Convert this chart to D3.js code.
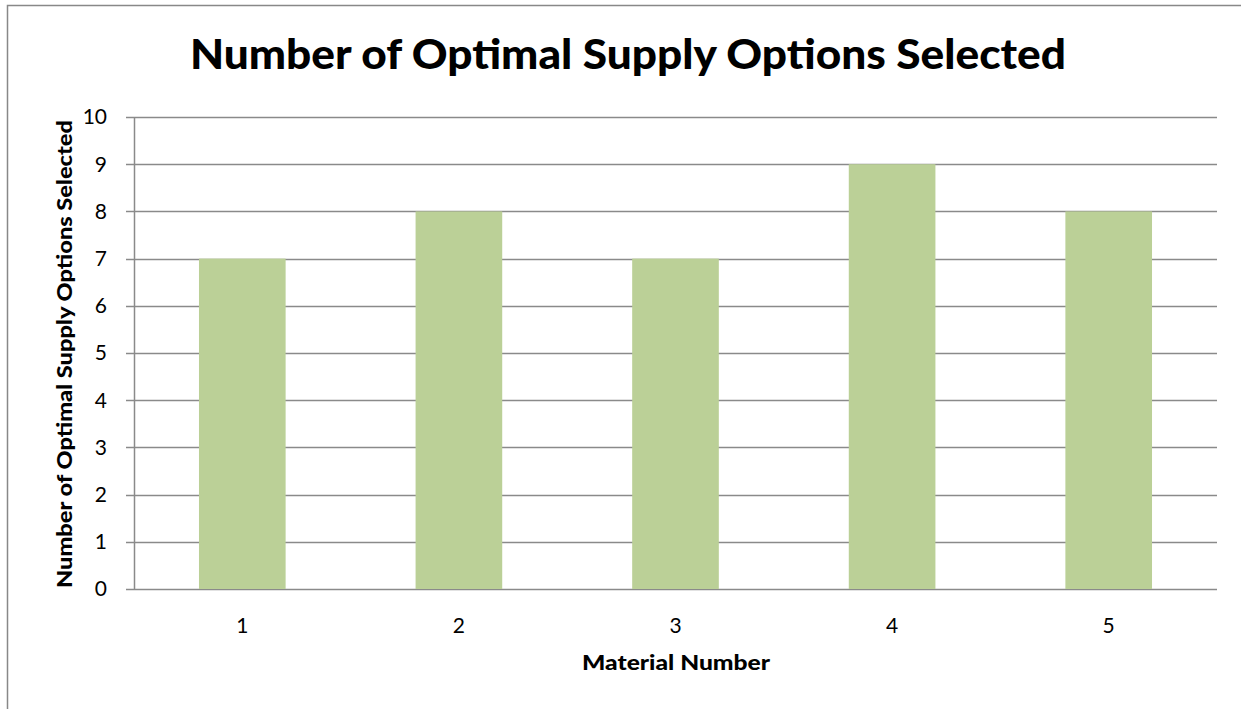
<!DOCTYPE html>
<html>
<head>
<meta charset="utf-8">
<script src="https://cdn.jsdelivr.net/npm/d3@7"></script>
<style>
  html, body { margin: 0; padding: 0; background: #fff; }
  svg { display: block; }
  text { font-family: Lato, "Open Sans", sans-serif; fill: #000; }
</style>
</head>
<body>
<svg id="chart" width="1241" height="709"></svg>
<script>
// Chart data
const categories = ["1", "2", "3", "4", "5"];
const values = [7, 8, 7, 9, 8];
const yTicks = [0, 1, 2, 3, 4, 5, 6, 7, 8, 9, 10];
const titleText = "Number of Optimal Supply Options Selected";
const xTitle = "Material Number";
const yTitle = "Number of Optimal Supply Options Selected";

const svg = d3.select("#chart");
const W = 1241, H = 709;
const margin = { left: 134, right: 24, top: 117, bottom: 120 };
const plotW = W - margin.left - margin.right;
const plotH = H - margin.top - margin.bottom;

// Outer frame (top and left edges)
svg.append("path")
  .attr("d", `M7.5,${H} L7.5,5.5 L${W},5.5`)
  .attr("fill", "none")
  .attr("stroke", "#888")
  .attr("stroke-width", 1.5);

const g = svg.append("g").attr("transform", `translate(${margin.left},${margin.top})`);

const x = d3.scaleBand().domain(categories).range([0, plotW]).paddingInner(0.6).paddingOuter(0.3);
const y = d3.scaleLinear().domain([0, 10]).range([plotH, 0]);

// Horizontal gridlines
g.append("g")
  .selectAll("line")
  .data(yTicks)
  .join("line")
  .attr("x1", -8).attr("x2", plotW)
  .attr("y1", d => Math.round(y(d)) + 0.5)
  .attr("y2", d => Math.round(y(d)) + 0.5)
  .attr("stroke", "#8a8a8a")
  .attr("stroke-width", 1.5);

// Bars
g.append("g")
  .selectAll("rect")
  .data(values)
  .join("rect")
  .attr("x", (d, i) => x(categories[i]))
  .attr("width", x.bandwidth())
  .attr("y", d => y(d))
  .attr("height", d => plotH - y(d))
  .attr("fill", "#bbd097");

// Vertical axis line
g.append("line")
  .attr("x1", 0.5).attr("x2", 0.5)
  .attr("y1", 0).attr("y2", plotH)
  .attr("stroke", "#8a8a8a")
  .attr("stroke-width", 1.5);

// Y tick labels
g.append("g")
  .selectAll("text")
  .data(yTicks)
  .join("text")
  .attr("x", -27)
  .attr("y", d => y(d))
  .attr("dy", "0.35em")
  .attr("text-anchor", "end")
  .attr("font-size", 21)
  .text(d => d);

// X tick labels
g.append("g")
  .selectAll("text")
  .data(categories)
  .join("text")
  .attr("x", d => x(d) + x.bandwidth() / 2)
  .attr("y", plotH + 44)
  .attr("text-anchor", "middle")
  .attr("font-size", 21)
  .text(d => d);

// Titles
svg.append("text")
  .attr("x", 628).attr("y", 69)
  .attr("text-anchor", "middle")
  .attr("font-size", 41)
  .attr("font-weight", 900)
  .attr("textLength", 876)
  .attr("lengthAdjust", "spacingAndGlyphs")
  .text(titleText);

svg.append("text")
  .attr("x", 676).attr("y", 670)
  .attr("text-anchor", "middle")
  .attr("font-size", 21)
  .attr("font-weight", 900)
  .attr("textLength", 188)
  .attr("lengthAdjust", "spacingAndGlyphs")
  .text(xTitle);

svg.append("text")
  .attr("transform", `translate(72,354) rotate(-90)`)
  .attr("text-anchor", "middle")
  .attr("font-size", 21)
  .attr("font-weight", 900)
  .attr("textLength", 468)
  .attr("lengthAdjust", "spacingAndGlyphs")
  .text(yTitle);
</script>
</body>
</html>
